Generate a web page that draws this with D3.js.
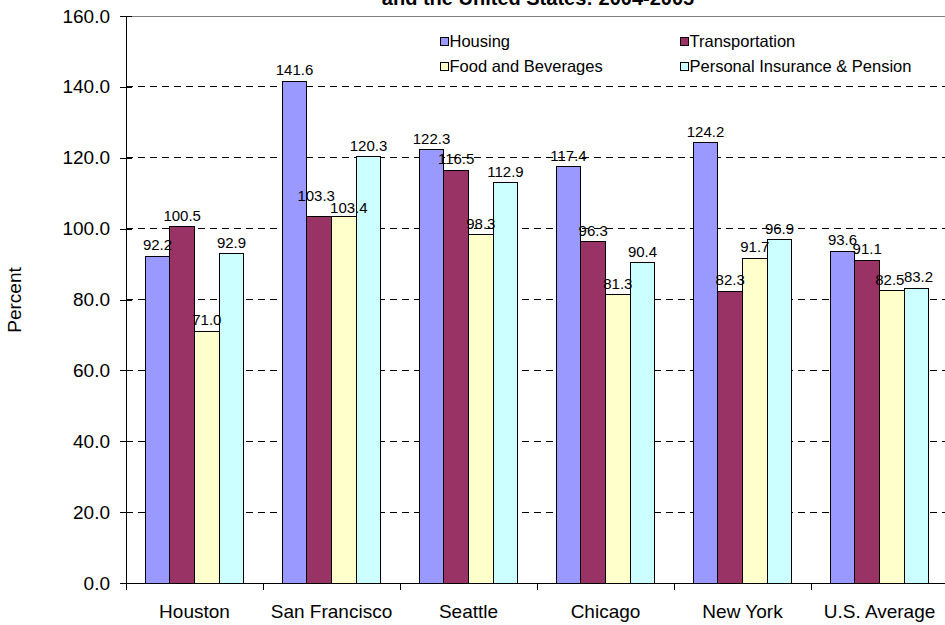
<!DOCTYPE html>
<html><head><meta charset="utf-8">
<script src="https://cdn.jsdelivr.net/npm/d3@7"></script>
<style>body{margin:0;background:#fff}svg{display:block;font-family:"Liberation Sans",Arial,sans-serif}</style>
</head><body>
<svg id="c" width="945" height="625"></svg>
<script>
const categories = ["Houston","San Francisco","Seattle","Chicago","New York","U.S. Average"];
const seriesNames = ["Housing","Transportation","Food and Beverages","Personal Insurance & Pension"];
const housing = [92.2,141.6,122.3,117.4,124.2,93.6];
const transportation = [100.5,103.3,116.5,96.3,82.3,91.1];
const food = [71.0,103.4,98.3,81.3,91.7,82.5];
const insurance = [92.9,120.3,112.9,90.4,96.9,83.2];
const yTicks = [0,20,40,60,80,100,120,140,160];
const colors = ["#9999FF","#993366","#FFFFCC","#CCFFFF"];
const titleText = "and the United States: 2004-2005";
const yLabel = "Percent";

const seriesVals = [housing, transportation, food, insurance];
const svg = d3.select("#c");
const pLeft = 126, pRight = 948, pTop = 16, pBottom = 583;
const x0 = d3.scaleBand().domain(categories).range([pLeft, pRight]);
const bw = x0.bandwidth();
const groupW = bw*0.72;
const x1 = d3.scaleBand().domain(seriesNames).range([(bw-groupW)/2,(bw+groupW)/2]);
const y = d3.scaleLinear().domain([0,160]).range([pBottom, pTop]);

// label nudges where labels collide (as in the reference)
const nudge = {
  "San Francisco|Transportation": [-3,-10],
  "San Francisco|Food and Beverages": [5,2],
  "U.S. Average|Food and Beverages": [-2,0],
  "U.S. Average|Personal Insurance & Pension": [2,0]
};

// gridlines
svg.append("g").selectAll("line").data(yTicks.filter(t=>t>0 && t<160)).join("line")
  .attr("x1",pLeft).attr("x2",pRight).attr("y1",d=>y(d)).attr("y2",d=>y(d))
  .attr("stroke","#000").attr("stroke-width",1).attr("stroke-dasharray","7,5").attr("shape-rendering","crispEdges");
svg.append("line").attr("x1",pLeft).attr("x2",pRight).attr("y1",y(160)).attr("y2",y(160))
  .attr("stroke","#808080").attr("shape-rendering","crispEdges");

// bars
const data = [];
categories.forEach((c,i)=>seriesNames.forEach((s,j)=>data.push({c,s,j,v:seriesVals[j][i]})));
svg.append("g").selectAll("rect").data(data).join("rect")
  .attr("x",d=>x0(d.c)+x1(d.s)).attr("width",x1.bandwidth())
  .attr("y",d=>y(d.v)).attr("height",d=>y(0)-y(d.v))
  .attr("fill",d=>colors[d.j]).attr("stroke","#000").attr("stroke-width",1).attr("shape-rendering","crispEdges");

svg.append("g").selectAll("text").data(data).join("text")
  .attr("x",d=>x0(d.c)+x1(d.s)+x1.bandwidth()/2+((nudge[d.c+"|"+d.s]||[0,0])[0]))
  .attr("y",d=>y(d.v)-6+((nudge[d.c+"|"+d.s]||[0,0])[1]))
  .attr("text-anchor","middle").attr("font-size","15px").attr("fill","#000")
  .text(d=>d.v.toFixed(1));

// y axis
const ya = d3.axisLeft(y).tickValues(yTicks).tickFormat(d=>d.toFixed(1)).tickSize(6).tickPadding(10);
const yg = svg.append("g").attr("transform",`translate(${pLeft},0)`).call(ya);
yg.select(".domain").attr("stroke","#000").attr("shape-rendering","crispEdges");
yg.selectAll(".tick line").attr("x1",6).attr("stroke","#000").attr("shape-rendering","crispEdges");
yg.selectAll("text").attr("font-size","19px").attr("font-family","Liberation Sans, Arial, sans-serif").attr("fill","#000");

// x axis
const xa = d3.axisBottom(x0).tickSize(0).tickPadding(22);
const xg = svg.append("g").attr("transform",`translate(0,${pBottom})`).call(xa);
xg.select(".domain").attr("stroke","#000").attr("shape-rendering","crispEdges");
xg.selectAll("text").attr("font-size","19px").attr("font-family","Liberation Sans, Arial, sans-serif").attr("fill","#000");
svg.append("g").selectAll("line").data(categories).join("line")
  .attr("x1",d=>x0(d)).attr("x2",d=>x0(d)).attr("y1",pBottom).attr("y2",pBottom+7)
  .attr("stroke","#000").attr("shape-rendering","crispEdges");

// y label
svg.append("text").attr("transform","translate(21,300) rotate(-90)").attr("text-anchor","middle")
  .attr("font-size","19px").text(yLabel);

// title
svg.append("text").attr("x",538).attr("y",5).attr("text-anchor","middle")
  .attr("font-size","20px").attr("font-weight","bold").text(titleText);

// legend
const legPos = [[440,41],[680,41],[440,66],[680,66]];
const lg = svg.append("g").selectAll("g").data(seriesNames).join("g")
  .attr("transform",(d,i)=>`translate(${legPos[i][0]},${legPos[i][1]})`);
lg.append("rect").attr("x",0).attr("y",-4).attr("width",8).attr("height",8)
  .attr("fill",(d,i)=>colors[i]).attr("stroke","#000").attr("shape-rendering","crispEdges");
lg.append("text").attr("x",9.5).attr("y",6).attr("font-size","16.5px").text(d=>d);
</script>
</body></html>
